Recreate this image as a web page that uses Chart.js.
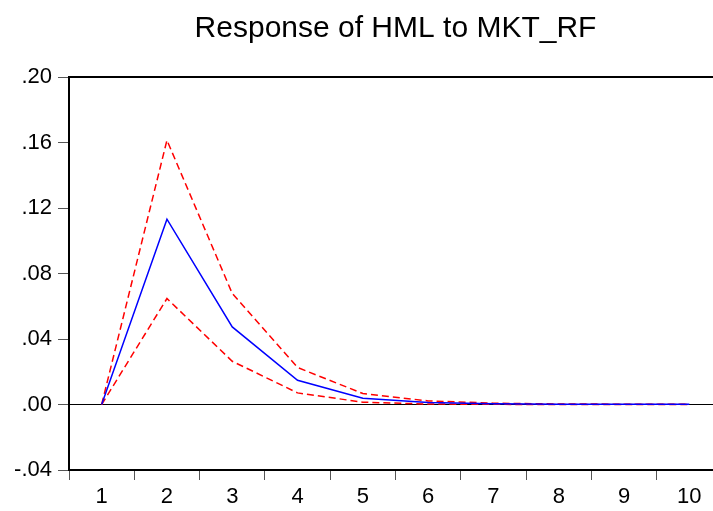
<!DOCTYPE html>
<html>
<head>
<meta charset="utf-8">
<script src="https://cdn.jsdelivr.net/npm/chart.js@4/dist/chart.umd.min.js"></script>
<style>
  html, body { margin: 0; padding: 0; background: #fff; overflow: hidden; }
  #irf-chart { display: block; }
</style>
</head>
<body>
<canvas id="irf-chart" width="740" height="511"></canvas>
<script>
// impulse response of HML to a MKT_RF shock, with +/- 2 s.e. bands
const periods = ["1", "2", "3", "4", "5", "6", "7", "8", "9", "10"];
const response = [0, 0.1132, 0.0474, 0.0148, 0.0038, 0.0012, 0.0004, 0.0002, 0.0001, 0.0001];
const upperBand = [0, 0.1614, 0.0678, 0.0226, 0.0067, 0.0022, 0.0008, 0.0003, 0.0002, 0.0001];
const lowerBand = [0, 0.0647, 0.0264, 0.0071, 0.0014, 0.0003, 0.0001, 0.0000, 0.0000, 0.0000];
const yMin = -0.04, yMax = 0.20, yStep = 0.04;

const tickFont = { family: "Liberation Sans, Arial, sans-serif", size: 22 };

function bandLine(data) {
  return {
    data: data,
    borderColor: "#ff0000",
    borderWidth: 1.5,
    borderDash: [7, 4],
    pointRadius: 0,
    fill: false,
    tension: 0,
  };
}

new Chart(document.getElementById("irf-chart"), {
  type: "line",
  data: {
    labels: periods,
    datasets: [
      {
        data: response,
        borderColor: "#0000ff",
        borderWidth: 1.5,
        pointRadius: 0,
        fill: false,
        tension: 0,
      },
      bandLine(upperBand),
      bandLine(lowerBand),
    ],
  },
  options: {
    responsive: false,
    devicePixelRatio: 1,
    animation: false,
    layout: { padding: { left: 0, right: 18, top: 0, bottom: 0 } },
    plugins: {
      legend: { display: false },
      tooltip: { enabled: false },
      title: {
        display: true,
        fullSize: false,
        text: "Response of HML to MKT_RF",
        color: "#000",
        font: { family: "Liberation Sans, Arial, sans-serif", size: 30, weight: "normal" },
        padding: { top: 11, bottom: 30 },
      },
    },
    scales: {
      x: {
        type: "category",
        position: "bottom",
        offset: true,
        grid: {
          offset: true,
          drawOnChartArea: false,
          tickLength: 10,
          tickColor: "#555",
        },
        border: { color: "#000", width: 2 },
        ticks: { color: "#000", font: tickFont, padding: 4, maxRotation: 0 },
        afterFit: (scale) => { scale.height = 41; },
      },
      xTop: {
        type: "category",
        position: "top",
        offset: true,
        grid: { display: false, drawTicks: false },
        border: { color: "#000", width: 2 },
        ticks: { display: false },
        afterFit: (scale) => { scale.height = 0; },
      },
      y: {
        min: yMin,
        max: yMax,
        grid: {
          color: (ctx) => (ctx.tick && Math.abs(ctx.tick.value) < 1e-9 ? "#000" : "rgba(0,0,0,0)"),
          lineWidth: 1,
          tickLength: 11,
          tickColor: "#555",
        },
        border: { color: "#000", width: 2 },
        ticks: {
          stepSize: yStep,
          color: "#000",
          font: tickFont,
          padding: 6,
          callback: (v) => v.toFixed(2).replace("0.", "."),
        },
        afterFit: (scale) => { scale.width = 69; },
      },
    },
  },
});
</script>
</body>
</html>
